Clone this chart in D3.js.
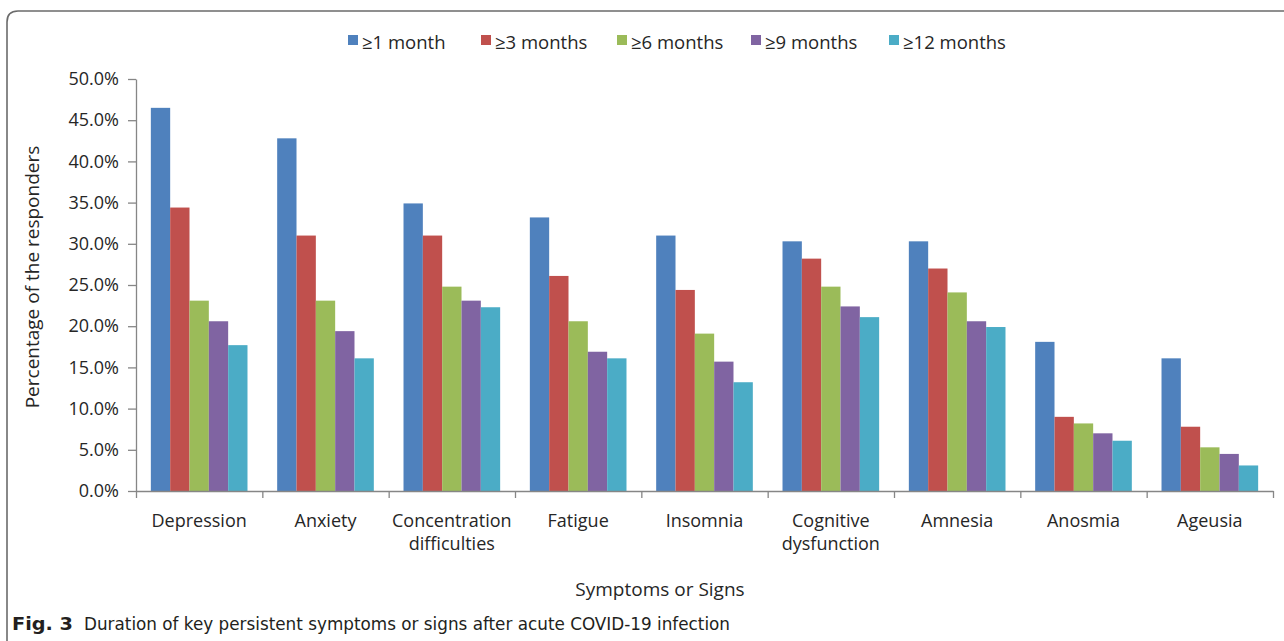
<!DOCTYPE html>
<html>
<head>
<meta charset="utf-8">
<script src="https://cdn.jsdelivr.net/npm/d3@7"></script>
<style>
  html, body { margin: 0; padding: 0; background: #fff; }
  svg { display: block; }
  .lbl { font-family: "Open Sans", "Noto Sans", sans-serif; fill: #262626; }
  .cap { font-family: "Liberation Sans Narrow", "DejaVu Sans Condensed", sans-serif; fill: #231f20; }
</style>
</head>
<body>
<svg id="chart" width="1284" height="641"></svg>
<script>
// Symptom categories (two-line labels split on "|")
const categories = [
  "Depression", "Anxiety", "Concentration|difficulties", "Fatigue", "Insomnia",
  "Cognitive|dysfunction", "Amnesia", "Anosmia", "Ageusia"
];

// Duration series
const seriesNames = ["≥1 month", "≥3 months", "≥6 months", "≥9 months", "≥12 months"];
const seriesColors = ["#4F81BD", "#C0504D", "#9BBB59", "#8064A2", "#4BACC6"];

// Share of responders (%) per symptom, one array per duration
const month1  = [46.5, 42.8, 34.9, 33.2, 31.0, 30.3, 30.3, 18.1, 16.1];
const month3  = [34.4, 31.0, 31.0, 26.1, 24.4, 28.2, 27.0,  9.0,  7.8];
const month6  = [23.1, 23.1, 24.8, 20.6, 19.1, 24.8, 24.1,  8.2,  5.3];
const month9  = [20.6, 19.4, 23.1, 16.9, 15.7, 22.4, 20.6,  7.0,  4.5];
const month12 = [17.7, 16.1, 22.3, 16.1, 13.2, 21.1, 19.9,  6.1,  3.1];
const seriesValues = [month1, month3, month6, month9, month12];

// Y axis tick values (fractions)
const yTicks = [0, 0.05, 0.10, 0.15, 0.20, 0.25, 0.30, 0.35, 0.40, 0.45, 0.50];

const svg = d3.select("#chart");
const axisColor = "#868686";

const plotLeft = 136, plotRight = 1273, plotTop = 79, plotBottom = 491;

const x0 = d3.scaleBand()
  .domain(categories)
  .range([plotLeft, plotRight])
  .paddingInner(0.235)
  .paddingOuter(0.1175);

const x1 = d3.scaleBand()
  .domain(seriesNames)
  .range([0, x0.bandwidth()])
  .padding(0);

const y = d3.scaleLinear().domain([0, 0.5]).range([plotBottom, plotTop]);

// Outer frame
svg.append("path")
  .attr("d", "M1284,11 H18 Q7,11 7,22 V641")
  .attr("fill", "none")
  .attr("stroke", "#6b6b6b")
  .attr("stroke-width", 1.6);

// Bars
const table = categories.map((c, i) => ({
  cat: c,
  vals: seriesNames.map((s, k) => ({ s, k, v: seriesValues[k][i] / 100 }))
}));

const groups = svg.append("g").selectAll("g")
  .data(table)
  .join("g")
  .attr("transform", d => `translate(${x0(d.cat)},0)`);

groups.selectAll("rect")
  .data(d => d.vals)
  .join("rect")
  .attr("x", d => x1(d.s))
  .attr("width", x1.bandwidth())
  .attr("y", d => y(d.v))
  .attr("height", d => y(0) - y(d.v))
  .attr("fill", d => seriesColors[d.k]);

// Y axis
const yAxis = svg.append("g")
  .attr("transform", `translate(${plotLeft},0)`)
  .call(d3.axisLeft(y).tickValues(yTicks).tickFormat(d3.format(".1%")).tickSize(8).tickSizeOuter(0).tickPadding(9));
yAxis.select(".domain").attr("stroke", axisColor).attr("stroke-width", 1.3);
yAxis.selectAll(".tick line").attr("stroke", axisColor).attr("stroke-width", 1.3);
yAxis.selectAll(".tick text")
  .attr("class", "lbl")
  .style("font-size", "18px")
  .attr("fill", "#262626");

// X axis: ticks at category boundaries
const xb = d3.scaleLinear().domain([0, categories.length]).range([plotLeft, plotRight]);
const xAxis = svg.append("g")
  .attr("transform", `translate(0,${plotBottom})`)
  .call(d3.axisBottom(xb).ticks(categories.length).tickFormat("").tickSize(7).tickSizeOuter(0));
xAxis.select(".domain").attr("stroke", axisColor).attr("stroke-width", 1.3);
xAxis.selectAll(".tick line").attr("stroke", axisColor).attr("stroke-width", 1.3);

// Category labels
const catText = svg.append("g").selectAll("text")
  .data(categories)
  .join("text")
  .attr("class", "lbl")
  .attr("text-anchor", "middle")
  .style("font-size", "18px")
  .attr("x", d => x0(d) + x0.bandwidth() / 2)
  .attr("y", 527);
catText.selectAll("tspan")
  .data(d => d.split("|"))
  .join("tspan")
  .attr("x", function () { return this.parentNode.getAttribute("x"); })
  .attr("dy", (d, i) => i === 0 ? 0 : 23)
  .text(d => d);

// Axis titles
svg.append("text")
  .attr("class", "lbl")
  .attr("text-anchor", "middle")
  .style("font-size", "19px")
  .attr("transform", `translate(39,${(plotTop + plotBottom) / 2 - 8}) rotate(-90)`)
  .text("Percentage of the responders");

svg.append("text")
  .attr("class", "lbl")
  .attr("text-anchor", "middle")
  .style("font-size", "19px")
  .attr("x", 660)
  .attr("y", 596)
  .text("Symptoms or Signs");

// Legend
const legendX = [348, 481, 617, 751, 889];
const legend = svg.append("g").selectAll("g")
  .data(seriesNames)
  .join("g")
  .attr("transform", (d, i) => `translate(${legendX[i]},0)`);
legend.append("rect")
  .attr("x", 0).attr("y", 35)
  .attr("width", 10).attr("height", 10)
  .attr("fill", (d, i) => seriesColors[i]);
legend.append("text")
  .attr("class", "lbl")
  .style("font-size", "18.5px")
  .attr("x", 14)
  .attr("y", 48.5)
  .text(d => d);

// Caption
svg.append("text")
  .attr("class", "cap")
  .style("font-size", "17px")
  .style("font-weight", "bold")
  .attr("x", 12)
  .attr("y", 630)
  .attr("textLength", 61)
  .attr("lengthAdjust", "spacingAndGlyphs")
  .text("Fig. 3");
svg.append("text")
  .attr("class", "cap")
  .style("font-size", "17px")
  .attr("x", 84)
  .attr("y", 630)
  .attr("textLength", 646)
  .attr("lengthAdjust", "spacingAndGlyphs")
  .text("Duration of key persistent symptoms or signs after acute COVID-19 infection");
</script>
</body>
</html>
